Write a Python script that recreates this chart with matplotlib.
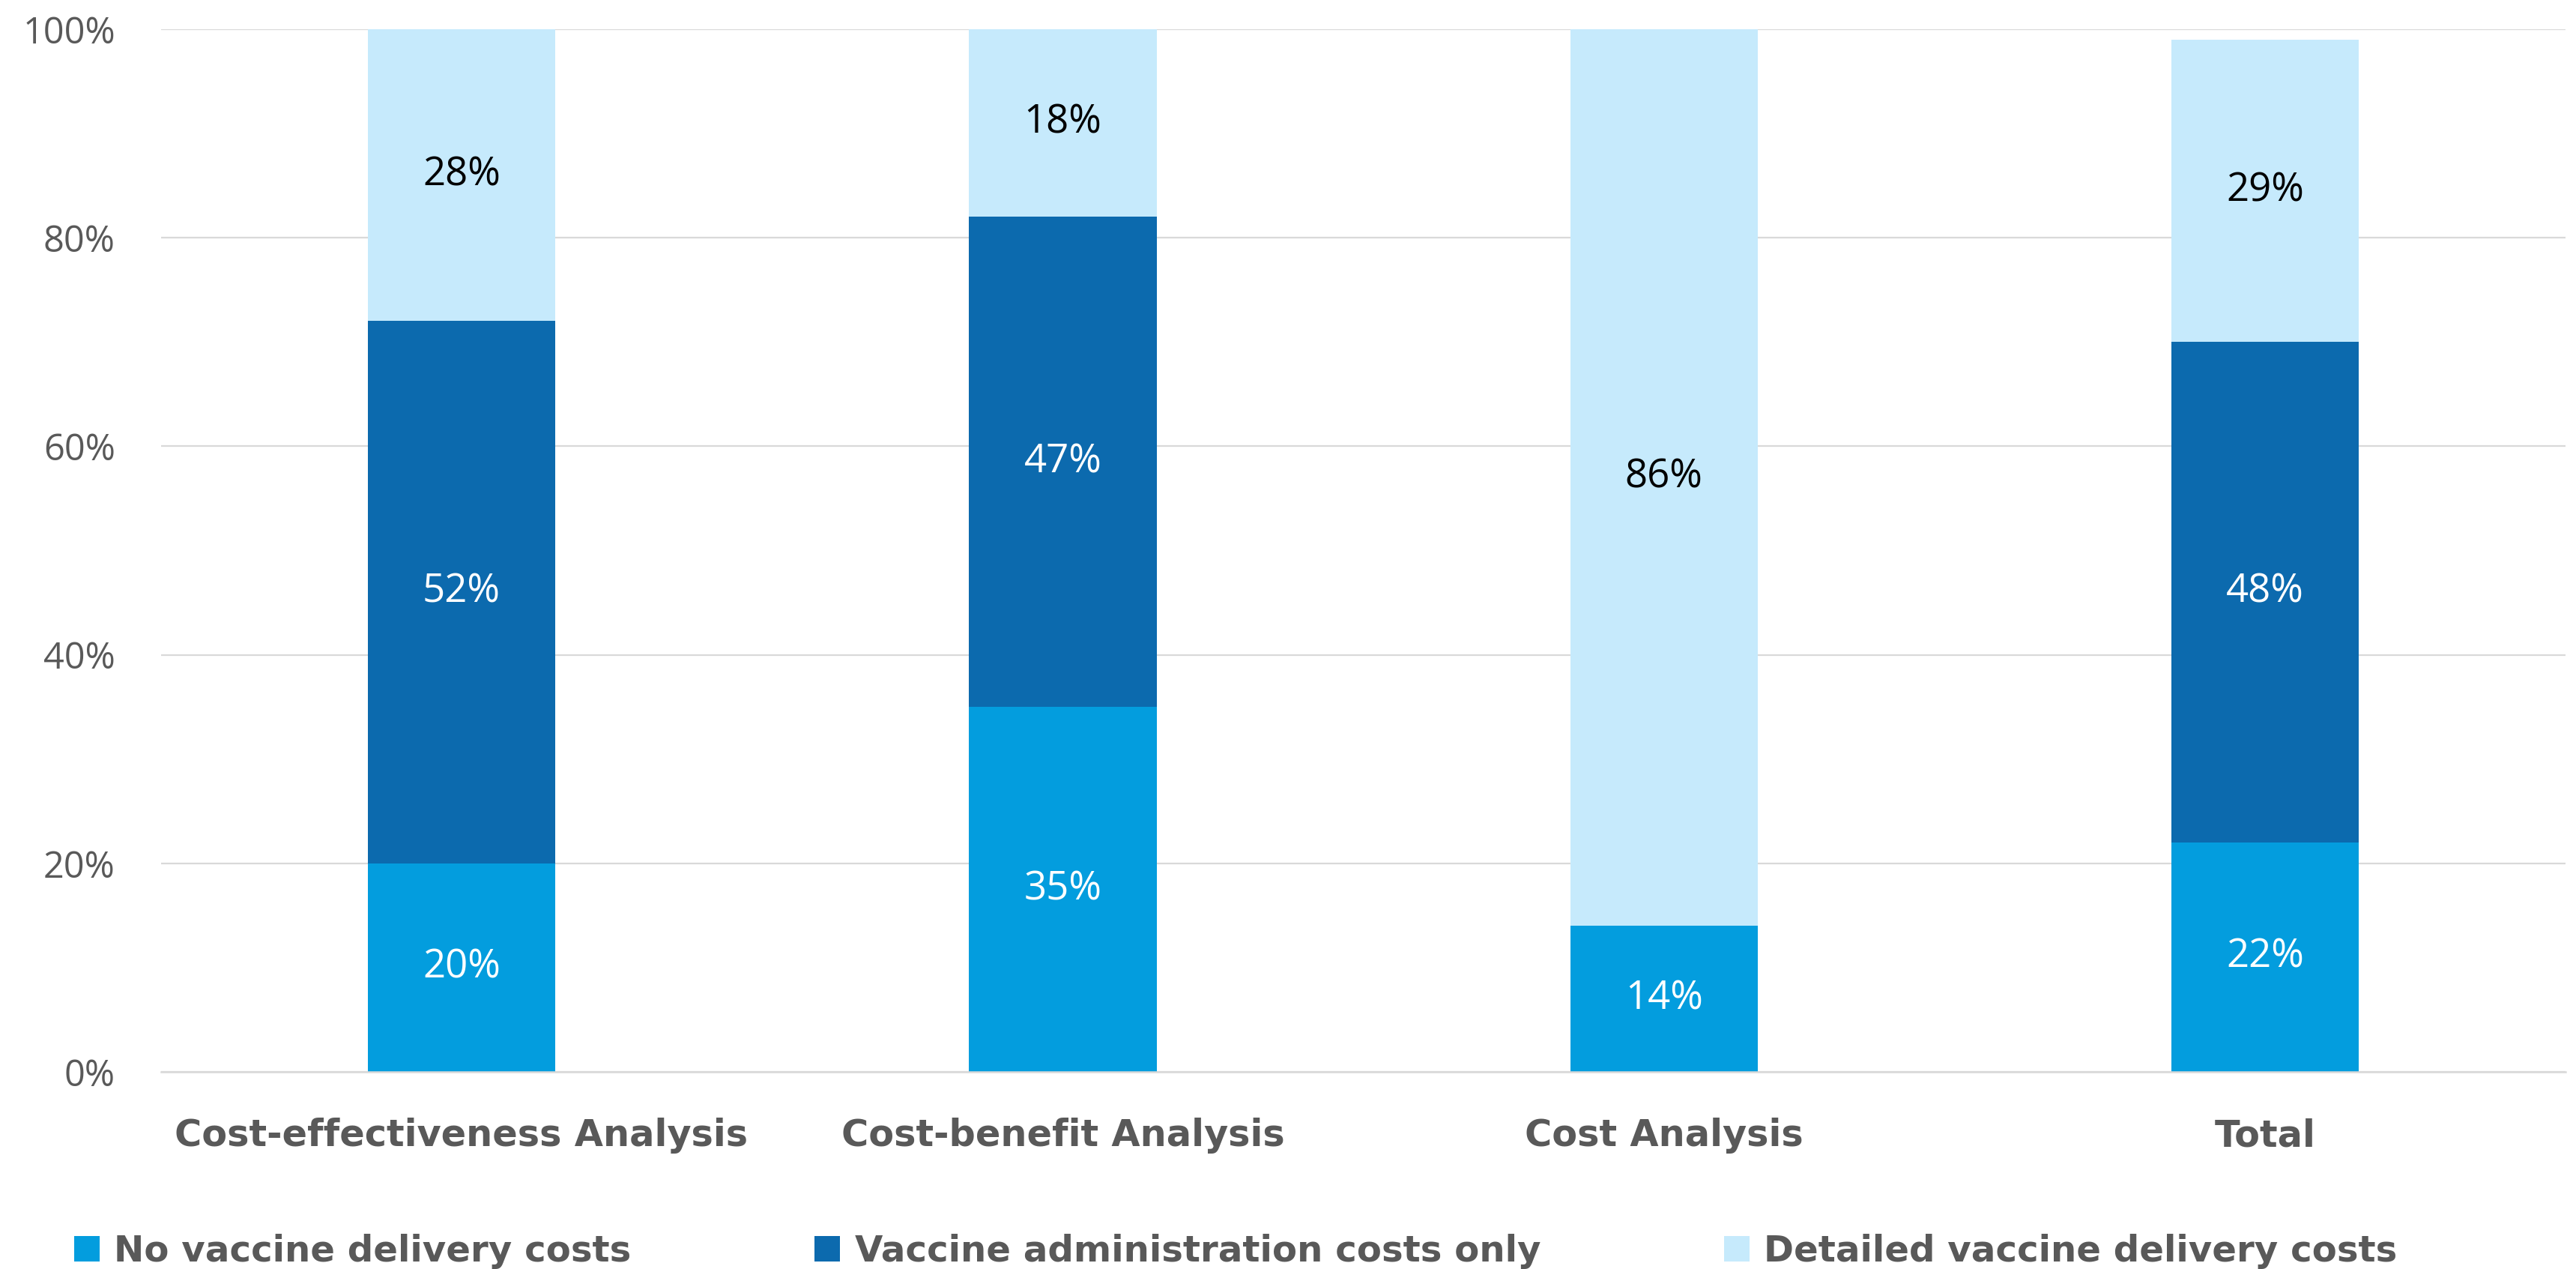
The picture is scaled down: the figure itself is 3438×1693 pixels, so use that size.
import numpy as np
import matplotlib
import matplotlib.pyplot as plt

matplotlib.use('Agg')

categories = ["Cost-effectiveness Analysis", "Cost-benefit Analysis", "Cost Analysis", "Total"]
series_names = ["No vaccine delivery costs", "Vaccine administration costs only",
                "Detailed vaccine delivery costs"]
no_delivery = [20, 35, 14, 22]
admin_only = [52, 47, 0, 48]
detailed = [28, 18, 86, 29]
yticks = [0, 20, 40, 60, 80, 100]

colors = ["#039DDE", "#0C6AAE", "#C6EAFC"]
label_colors = ["white", "white", "black"]
gray = "#595959"

plt.rcParams['font.family'] = ['Open Sans', 'DejaVu Sans']
bold_font = ['DejaVu Sans']

fig = plt.figure(figsize=(17.19, 8.465), dpi=200)
ax = fig.add_axes([0.0625, 0.1553, 0.9335, 0.8217])

x = np.arange(len(categories))
bottom = np.zeros(len(categories))
for vals, name, col, lcol in zip([no_delivery, admin_only, detailed], series_names, colors, label_colors):
    vals = np.array(vals, dtype=float)
    ax.bar(x, vals, width=0.312, bottom=bottom, color=col, label=name, zorder=2)
    # segment value in the middle of each piece
    for xi, b, v in zip(x, bottom, vals):
        if v > 0:
            ax.text(xi, b + v / 2, f"{v:.0f}%", ha='center', va='center',
                    color=lcol, fontsize=19, zorder=3)
    bottom += vals

ax.set_xlim(-0.5, 3.5)
ax.set_ylim(0, 100)
ax.set_yticks(yticks)
ax.set_yticklabels([f"{t}%" for t in yticks], fontsize=17.5, color=gray)
ax.set_xticks(x)
ax.set_xticklabels(categories, fontsize=17.8, fontweight='bold', color=gray, family=bold_font)
ax.tick_params(axis='y', length=0, pad=22)
ax.tick_params(axis='x', length=0, pad=22)
ax.yaxis.grid(True, color="#D9D9D9", linewidth=0.8, zorder=0)
for s in ['top', 'right', 'left']:
    ax.spines[s].set_visible(False)
ax.spines['bottom'].set_color("#D9D9D9")
ax.spines['bottom'].set_linewidth(0.9)

fig.legend(loc='lower left', bbox_to_anchor=(0.0287, 0.0, 0.902, 0.04), mode='expand',
           ncol=3, frameon=False, borderpad=0, borderaxespad=0,
           handlelength=0.7, handleheight=0.7, handletextpad=0.4,
           prop={'size': 17.4, 'weight': 'bold', 'family': bold_font}, labelcolor=gray)

fig.savefig("out.png", dpi=200)
